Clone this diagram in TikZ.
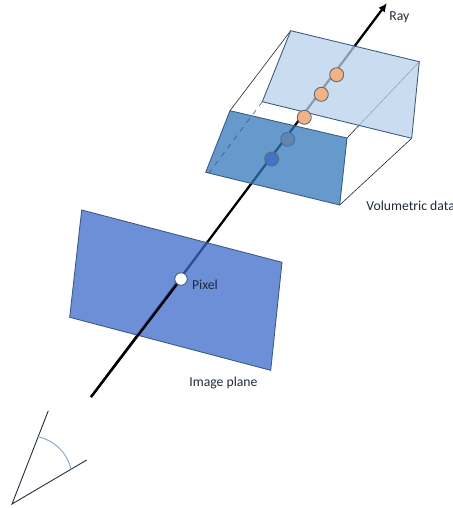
\documentclass[tikz,border=0pt]{standalone}
\usepackage{fontspec}
\setmainfont{Carlito}
\usetikzlibrary{positioning,arrows.meta}
\definecolor{ink}{HTML}{1F2A3A}
\definecolor{edge}{HTML}{3D5A80}
\definecolor{imageblue}{HTML}{3B69CB}
\definecolor{backblue}{HTML}{B8D2EB}
\definecolor{frontblue}{HTML}{3377BB}
\definecolor{sample}{HTML}{F4B183}
\definecolor{samplefront}{HTML}{4472C4}
\definecolor{sampleedge}{HTML}{5A6B80}
\definecolor{arcblue}{HTML}{7F9FD0}
\tikzset{
  plane/.style={draw=edge, line width=0.5pt, fill opacity=0.75},
  link/.style={ink, line width=0.35pt},
  ray/.style={black, line width=1.3pt},
  sampledot/.style={circle, draw=sampleedge, line width=0.5pt, inner sep=0pt, minimum size=0.28cm},
  caption/.style={font=\fontsize{7.8}{9}\selectfont, text=ink, anchor=west, inner sep=0pt},
}
\begin{document}
\begin{tikzpicture}[>=Latex, x=0.02cm, y=-0.02cm]
        \useasboundingbox (0,0) rectangle (453,508);
        % ray end points
        \coordinate (raystart) at (91,397);
        \coordinate (raytip) at (387,3);
        % image plane
        \coordinate (imgA) at (81.7,210);
        \coordinate (imgB) at (282,262.3);
        \coordinate (imgC) at (270.7,370.3);
        \coordinate (imgD) at (69.7,317.3);
        % volume, back face
        \coordinate (backA) at (290.7,30.7);
        \coordinate (backB) at (419.3,61.7);
        \coordinate (backC) at (411.7,138.3);
        \coordinate (backD) at (262.3,101.7);
        % volume, front face
        \coordinate (frontA) at (230,110.7);
        \coordinate (frontB) at (347,138);
        \coordinate (frontC) at (339.7,205);
        \coordinate (frontD) at (205.7,172.3);
        \coordinate (dashend) at (209,173);
        % camera
        \coordinate (eye) at (12,504);
        \coordinate (eyeup) at (48.3,410.7);
        \coordinate (eyedown) at (86.7,460);
        \coordinate (arcup) at (38.3,436.7);
        \coordinate (arcdown) at (71.3,470);

        \draw[ray, -{Latex[length=5pt,width=4.5pt]}] (raystart) -- (raytip);
        \draw[link] (backA) -- (frontA);
        \draw[link] (backB) -- (frontB);
        \draw[link] (backC) -- (frontC);
        \draw[plane, fill=backblue] (backA) -- (backB) -- (backC) -- (backD) -- cycle;
        \node[sampledot, fill=sample] (sampleA) at (336.7,74.7) {};
        \node[sampledot, fill=sample] (sampleB) at (321.3,94.3) {};
        \node[sampledot, fill=sample] (sampleC) at (304.3,117.3) {};
        \node[sampledot, fill=sample] (sampleD) at (287.7,139.3) {};
        \draw[plane, fill=frontblue] (frontA) -- (frontB) -- (frontC) -- (frontD) -- cycle;
        \node[sampledot, fill=samplefront] (sampleE) at (271.7,159) {};
        \draw[link, dashed, edge] (backD) -- (dashend);

        \draw[plane, fill=imageblue] (imgA) -- (imgB) -- (imgC) -- (imgD) -- cycle;
        \node[circle, draw=edge, fill=white, line width=0.5pt, inner sep=0pt, minimum size=0.25cm] (pixel) at (181,279) {};
        \draw[ray] (raystart) -- (pixel);

        \node[caption] (raylabel) at (389,17) {Ray};
        \node[caption] (volumelabel) at (366,206) {Volumetric data};
        \node[caption, right=0.08cm of pixel, yshift=-0.12cm] (pixellabel) {Pixel};
        \node[caption] (imagelabel) at (189,383) {Image plane};

        \draw[ink, line width=0.5pt] (eyeup) -- (eye) -- (eyedown);
        \draw[arcblue, line width=0.5pt] (arcup) to[bend left=30] (arcdown);
      \end{tikzpicture}
\end{document}
